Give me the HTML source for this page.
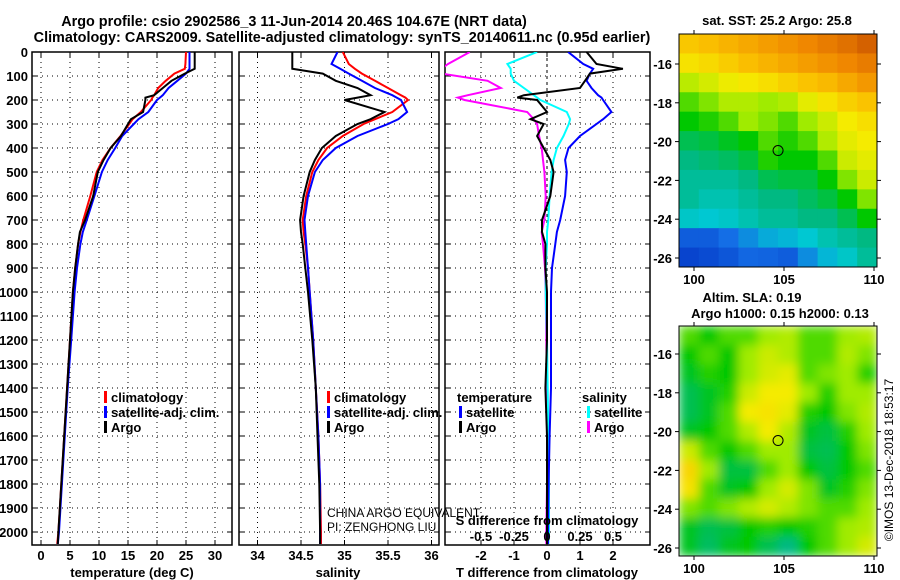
<!DOCTYPE html>
<html><head><meta charset="utf-8">
<style>
html,body{margin:0;padding:0;background:#fff;}
svg{display:block;font-family:"Liberation Sans",sans-serif;}
.b{font-weight:bold;font-size:13px;}
.t{font-size:12px;}
</style></head>
<body>
<svg id="chart" width="900" height="580" viewBox="0 0 900 580" xmlns="http://www.w3.org/2000/svg">
<defs><filter id="blur" x="0" y="0" width="1" height="1"><feGaussianBlur stdDeviation="5" edgeMode="duplicate"/></filter></defs>
<text class="b" x="294" y="26" text-anchor="middle" style="font-size:14.4px">Argo profile: csio 2902586_3 11-Jun-2014 20.46S 104.67E (NRT data)</text>
<text class="b" x="342" y="42" text-anchor="middle" style="font-size:14.4px">Climatology: CARS2009. Satellite-adjusted climatology: synTS_20140611.nc (0.95d earlier)</text>
<g id="g"></g>
</svg>
<script>
const depths=[0,50,70,90,120,150,180,190,200,250,280,300,350,400,450,500,600,700,750,800,900,1000,1200,1400,1600,1800,2000,2050];
const tArgo=[26.5,26.5,26.5,24.8,22.5,21,19.5,18,18,17.6,15.5,15,13.8,12,10.8,9.8,9,7.6,6.7,6.4,5.9,5.5,5,4.5,4,3.5,3,2.9];
const tClim=[25,24.9,24.8,23,21.5,20.2,19.5,19.2,19,17.2,15.8,15.2,13.7,12,10.6,9.6,8.5,7.3,6.8,6.4,5.9,5.5,5,4.5,4,3.5,3,2.8];
const tSat=[25.6,25.6,25.6,25,23.5,22,21,20.5,20,18.5,16.8,16,14,12.8,11.5,10.5,9.2,7.9,7.2,6.8,6.2,5.8,5.2,4.6,4.1,3.6,3.1,2.9];
const sArgo=[34.4,34.4,34.4,34.75,34.9,35.15,35.3,35.15,35.0,35.46,35.3,35.15,34.9,34.74,34.66,34.6,34.53,34.49,34.5,34.52,34.55,34.58,34.63,34.67,34.69,34.71,34.72,34.72];
const sClim=[34.98,35.05,35.12,35.2,35.35,35.5,35.65,35.7,35.73,35.55,35.35,35.22,34.98,34.8,34.7,34.63,34.56,34.52,34.53,34.55,34.58,34.6,34.64,34.67,34.7,34.72,34.73,34.73];
const sSat=[34.92,34.85,34.95,35.05,35.2,35.35,35.55,35.6,35.65,35.72,35.62,35.5,35.15,34.9,34.75,34.66,34.58,34.54,34.55,34.56,34.58,34.6,34.64,34.67,34.7,34.72,34.72,34.72];
const dTArgo=[1.2,1.5,2.3,1.3,1.15,1.0,-0.7,-0.9,-0.3,0,-0.5,-0.1,-0.3,-0.1,0.1,0.2,0.1,-0.15,-0.15,-0.05,-0.05,0,0,-0.05,0,0,0,0];
const dTSat=[0.64,1.1,1.4,1.3,1.2,1.35,1.55,1.65,1.7,1.95,1.7,1.5,1.0,0.65,0.55,0.6,0.55,0.4,0.3,0.25,0.15,0.12,0.12,0.12,0.08,0.05,0.03,0.03];
const dSSat=[-0.075,-0.3,-0.275,-0.275,-0.25,-0.175,-0.1,-0.075,-0.05,0.15,0.175,0.165,0.125,0.075,0.05,0.035,0.02,0.01,0,0,-0.01,-0.01,0,0.005,0.01,0.015,0.015,0.01];
const dSArgo=[-0.585,-0.75,-0.8,-0.8,-0.45,-0.35,-0.6,-0.675,-0.625,-0.15,-0.1,-0.075,-0.06,-0.04,-0.03,-0.02,-0.01,-0.02,-0.04,-0.03,-0.015,-0.01,-0.005,0,0,0,-0.005,-0.005];
const depthTicks=[0,100,200,300,400,500,600,700,800,900,1000,1100,1200,1300,1400,1500,1600,1700,1800,1900,2000];
const tTicks=[0,5,10,15,20,25,30];
const sTicks=[34,34.5,35,35.5,36];
const sTickLabels=["34","34.5","35","35.5","36"];
const dTTicks=[-2,-1,0,1,2];
const dSTicks=[-0.5,-0.25,0,0.25,0.5];
const dSTickLabels=["-0.5","-0.25","0","0.25","0.5"];
const sstGrid=[
[.78,.8,.82,.84,.86,.88,.9,.92,.94,.97],
[.72,.74,.77,.8,.82,.84,.86,.88,.9,.92],
[.63,.66,.69,.71,.73,.76,.79,.81,.84,.87],
[.55,.58,.62,.62,.6,.62,.68,.72,.76,.79],
[.5,.52,.55,.6,.58,.55,.6,.65,.7,.73],
[.45,.46,.48,.5,.55,.52,.55,.62,.68,.7],
[.42,.43,.44,.46,.52,.5,.5,.55,.65,.68],
[.4,.4,.4,.42,.45,.46,.46,.5,.58,.65],
[.4,.38,.38,.4,.42,.42,.44,.46,.5,.58],
[.36,.35,.36,.38,.4,.4,.42,.42,.45,.5],
[.15,.15,.2,.25,.3,.32,.35,.38,.4,.42],
[.08,.1,.13,.18,.17,.15,.25,.32,.36,.4]];
const slaGrid=[
[.55,.5,.55,.55,.6,.62,.55,.55,.6,.62],
[.5,.55,.5,.6,.65,.62,.55,.55,.62,.58],
[.48,.52,.5,.6,.66,.68,.55,.58,.6,.52],
[.45,.48,.52,.65,.7,.7,.6,.52,.6,.6],
[.45,.48,.55,.7,.72,.68,.52,.5,.58,.62],
[.48,.5,.55,.62,.7,.62,.48,.46,.52,.6],
[.65,.55,.5,.55,.6,.6,.46,.45,.5,.58],
[.75,.6,.46,.46,.55,.6,.5,.46,.5,.55],
[.72,.55,.48,.5,.6,.66,.58,.48,.52,.58],
[.58,.55,.58,.62,.66,.62,.58,.55,.55,.6],
[.48,.45,.46,.5,.52,.5,.52,.55,.6,.62],
[.48,.44,.48,.5,.45,.42,.5,.55,.6,.66]];
const latTicks=[-16,-18,-20,-22,-24,-26];
const lonTicks=[100,105,110];
const argoLon=104.67, argoLat=-20.46;

const NS="http://www.w3.org/2000/svg";
const G=document.getElementById('g');
function mk(tag,attrs,parent){const e=document.createElementNS(NS,tag);for(const k in attrs)e.setAttribute(k,attrs[k]);(parent||G).appendChild(e);return e;}
function txt(x,y,s,cls,anchor,parent){const e=mk('text',{x:x,y:y,'class':cls,'text-anchor':anchor||'start'},parent);e.textContent=s;return e;}
const Y=d=>52+d*0.24;
const TOP=52,BOT=545;
const panels=[
 {name:'temperature',x0:32,x1:232,f:v=>41+5.8*v},
 {name:'salinity',x0:239,x1:439,f:v=>257.5+87*(v-34)},
 {name:'difference',x0:445,x1:650,f:v=>547+33*v}];
const fS=v=>547+132*v;

panels.forEach((p,i)=>{
 const g=mk('g',{});
 
 
 const cp=mk('clipPath',{id:'cp'+i},g);mk('rect',{x:p.x0,y:TOP,width:p.x1-p.x0,height:BOT-TOP},cp);
 depthTicks.forEach(d=>{
  const l=mk('line',{x1:p.x0,x2:p.x1,y1:Y(d),y2:Y(d),stroke:'#000','stroke-width':1,'stroke-dasharray':'1,4'},g);
  
  
  mk('line',{x1:p.x0,x2:p.x0+5,y1:Y(d),y2:Y(d),stroke:'#000'},g);
  mk('line',{x1:p.x1-5,x2:p.x1,y1:Y(d),y2:Y(d),stroke:'#000'},g);
 });
 const ticks=i==0?tTicks:i==1?sTicks:dTTicks;
 ticks.forEach((t,k)=>{
  const x=p.f(t);
  const l=mk('line',{x1:x,x2:x,y1:TOP,y2:BOT,stroke:'#000','stroke-width':1,'stroke-dasharray':(i==2&&t==0)?'3,3':'1,4'},g);
  
  
  mk('line',{x1:x,x2:x,y1:BOT-5,y2:BOT,stroke:'#000'},g);
  mk('line',{x1:x,x2:x,y1:TOP,y2:TOP+5,stroke:'#000'},g);
  const lbl=txt(x,560,i==1?sTickLabels[k]:String(t),'b','middle',g);
  
  
 });
 const fr=mk('rect',{x:p.x0,y:TOP,width:p.x1-p.x0,height:BOT-TOP,fill:'none',stroke:'#000','stroke-width':1.5},g);
 
 
 p.g=g;
});
depthTicks.forEach(d=>{
 const l=txt(28,Y(d)+5,String(d),'b','end');
 
 
});
function line(vals,f,color,i,name,w){
 const pts=vals.map((v,k)=>f(v).toFixed(1)+','+Y(depths[k]).toFixed(1)).join(' ');
 const e=mk('polyline',{points:pts,fill:'none',stroke:color,'stroke-width':w||2,'clip-path':'url(#cp'+i+')'},panels[i].g);
 
 
}
line(tClim,panels[0].f,'#f00',0,'temperature-climatology-line');
line(tSat,panels[0].f,'#00f',0,'temperature-satellite-line');
line(tArgo,panels[0].f,'#000',0,'temperature-argo-line');
line(sClim,panels[1].f,'#f00',1,'salinity-climatology-line');
line(sSat,panels[1].f,'#00f',1,'salinity-satellite-line');
line(sArgo,panels[1].f,'#000',1,'salinity-argo-line');
line(dSArgo,fS,'#f0f',2,'salinity-argo-diff-line');
line(dSSat,fS,'#0ff',2,'salinity-satellite-diff-line');
line(dTSat,panels[2].f,'#00f',2,'temperature-satellite-diff-line');
line(dTArgo,panels[2].f,'#000',2,'temperature-argo-diff-line');

function legendItem(x,y,color,label,name){
 const g=mk('g',{});
 
 
 if(color) mk('rect',{x:x,y:y-11,width:3,height:12,fill:color},g);
 txt(x+(color?7:0),y,label,'b','start',g);
}
[[104,'temperature'],[327,'salinity']].forEach(([x,n])=>{
 legendItem(x,402,'#f00','climatology',n+'-legend-climatology');
 legendItem(x,417,'#00f','satellite-adj. clim.',n+'-legend-satellite');
 legendItem(x,432,'#000','Argo',n+'-legend-argo');
});
legendItem(457,402,null,'temperature','diff-legend-temperature-heading');
legendItem(459,417,'#00f','satellite','diff-legend-temperature-satellite');
legendItem(459,432,'#000','Argo','diff-legend-temperature-argo');
legendItem(582,402,null,'salinity','diff-legend-salinity-heading');
legendItem(587,417,'#0ff','satellite','diff-legend-salinity-satellite');
legendItem(587,432,'#f0f','Argo','diff-legend-salinity-argo');
dSTicks.forEach((t,k)=>{
 const l=txt(fS(t),541,dSTickLabels[k],'b','middle');
 
 
});
[[132,577,'temperature (deg C)','x-axis-title-temperature'],[338,577,'salinity','x-axis-title-salinity'],[547,577,'T difference from climatology','x-axis-title-t-diff'],[547,525,'S difference from climatology','x-axis-title-s-diff']].forEach(([x,y,s,n])=>{
 const l=txt(x,y,s,'b','middle');
});
[[327,517,'CHINA ARGO EQUIVALENT','institution-label'],[327,531,'PI: ZENGHONG LIU','pi-label']].forEach(([x,y,s,n])=>{
 const l=txt(x,y,s,'t','start');
});

function cmap(v){
 const st=[[0,[0,40,190]],[.2,[20,110,230]],[.35,[0,200,210]],[.42,[0,185,130]],[.5,[0,200,0]],[.6,[160,235,0]],[.7,[245,235,0]],[.8,[250,190,0]],[.9,[240,135,0]],[1,[200,80,0]]];
 for(let i=1;i<st.length;i++){if(v<=st[i][0]){const a=st[i-1],b=st[i],t=(v-a[0])/(b[0]-a[0]);return 'rgb('+a[1].map((c,j)=>Math.round(c+(b[1][j]-c)*t)).join(',')+')';}}
 return 'rgb(200,80,0)';
}
function map(grid,y0,y1,latY,name,titles,blur){
 const x0=679,x1=877;
 const g=mk('g',{});
 
 
 const cid='clip-'+name;
 const cp=mk('clipPath',{id:cid},g);mk('rect',{x:x0,y:y0,width:x1-x0,height:y1-y0},cp);
 const cg=mk('g',{'clip-path':'url(#'+cid+')'},g);
 const ig=mk('g',blur?{filter:'url(#blur)'}:{},cg);
 const rows=grid.length,cols=grid[0].length,cw=(x1-x0)/cols,ch=(y1-y0)/rows;
 grid.forEach((r,ri)=>r.forEach((v,ci)=>{
  const c=mk('rect',{x:x0+ci*cw,y:y0+ri*ch,width:cw+0.5,height:ch+0.5,fill:cmap(v)},ig);
  
  
 }));
 mk('rect',{x:x0,y:y0,width:x1-x0,height:y1-y0,fill:'none',stroke:'#000','stroke-width':1},g);
 const lonX=l=>694+18*(l-100);
 latTicks.forEach(l=>{const y=latY(l);mk('line',{x1:x0-4,x2:x0,y1:y,y2:y,stroke:'#000'},g);mk('line',{x1:x1,x2:x1+4,y1:y,y2:y,stroke:'#000'},g);
  const t=txt(672,y+5,String(l),'b','end',g);});
 lonTicks.forEach(l=>{const x=lonX(l);mk('line',{x1:x,x2:x,y1:y1,y2:y1+4,stroke:'#000'},g);mk('line',{x1:x,x2:x,y1:y0-4,y2:y0,stroke:'#000'},g);
  const t=txt(x,y1+17,String(l),'b','middle',g);});
 const m=mk('circle',{cx:lonX(argoLon),cy:latY(argoLat),r:5,fill:'none',stroke:'#000','stroke-width':1},g);
 
 
 titles.forEach(([x,y,s])=>{const t=txt(x,y,s,'b','middle',g);});
}
map(sstGrid,34,267,l=>64+19.4*(-16-l),'sst-map',[[777,25,'sat. SST: 25.2 Argo: 25.8']],false);
map(slaGrid,326,556,l=>354+19.4*(-16-l),'sla-map',[[752,302,'Altim. SLA: 0.19'],[780,318,'Argo h1000: 0.15 h2000: 0.13']],true);
const c=txt(0,0,'\u00A9IMOS 13-Dec-2018 18:53:17','t','middle');
c.setAttribute('transform','translate(893,460) rotate(-90)');


</script>
</body></html>
